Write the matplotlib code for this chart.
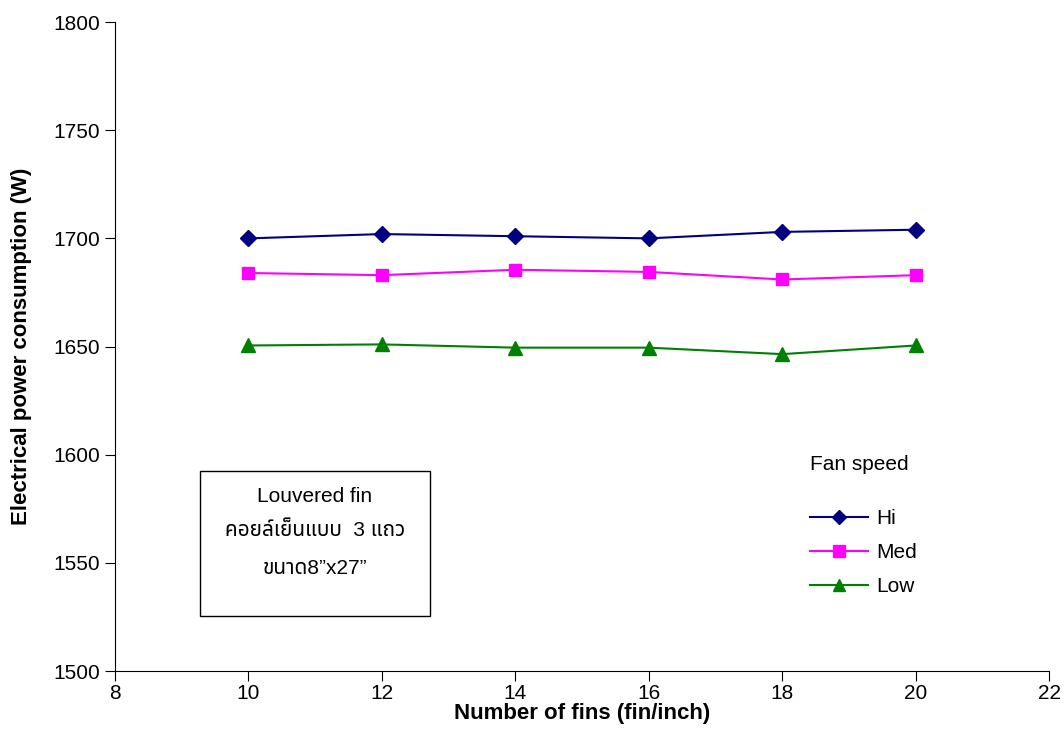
import matplotlib
matplotlib.use("Agg")
import matplotlib.pyplot as plt
from matplotlib.patches import Rectangle

# fins per inch
fins = [10, 12, 14, 16, 18, 20]
# electrical power (W) for each fan speed
power_hi = [1700, 1702, 1701, 1700, 1703, 1704]
power_med = [1684, 1683, 1685.5, 1684.5, 1681, 1683]
power_low = [1650.5, 1651, 1649.5, 1649.5, 1646.5, 1650.5]

plt.rcParams['font.family'] = ['Liberation Sans', 'Noto Sans Thai', 'Loma',
                               'Garuda', 'Noto Sans', 'DejaVu Sans']

fig = plt.figure(figsize=(10.64, 7.49), dpi=100)
ax = fig.add_axes([0.108, 0.104, 0.878, 0.8666])

ax.plot(fins, power_hi, color='#000080', marker='D', markersize=8, lw=1.5, label='Hi')
ax.plot(fins, power_med, color='#ff00ff', marker='s', markersize=9, lw=1.5, label='Med')
ax.plot(fins, power_low, color='#008000', marker='^', markersize=10, lw=1.5, label='Low')

ax.set_xlim(8, 22)
ax.set_ylim(1500, 1800)
ax.set_xticks(range(8, 23, 2))
ax.set_yticks(range(1500, 1801, 50))
ax.spines['top'].set_visible(False)
ax.spines['right'].set_visible(False)
ax.tick_params(direction='out', length=7, labelsize=15, pad=4)
ax.tick_params(axis='x', pad=2)

ax.set_xlabel('Number of fins (fin/inch)', fontsize=16, fontweight='bold', labelpad=0)
ax.set_ylabel('Electrical power consumption (W)', fontsize=16, fontweight='bold', labelpad=15)

# legend, title drawn separately to get the gap like the original
ax.text(0.744, 0.318, 'Fan speed', transform=ax.transAxes, ha='left', va='center', fontsize=15)
ax.legend(loc='upper left', bbox_to_anchor=(0.744, 0.25), borderaxespad=0, borderpad=0,
          frameon=False, fontsize=15, handlelength=2.8, handletextpad=0.4,
          labelspacing=0.72, markerscale=0.9)

# text box
ax.add_patch(Rectangle((0.091, 0.085), 0.246, 0.223, transform=ax.transAxes,
                       fill=False, edgecolor='black', lw=1))
ax.text(0.214, 0.2696, 'Louvered fin', transform=ax.transAxes, ha='center', va='center', fontsize=15)
ax.text(0.214, 0.2173, 'คอยล์เย็นแบบ  3 แถว', transform=ax.transAxes, ha='center', va='center', fontsize=15)
ax.text(0.214, 0.1587, 'ขนาด8”x27”', transform=ax.transAxes, ha='center', va='center', fontsize=15)

fig.savefig('out.png', dpi=100)
